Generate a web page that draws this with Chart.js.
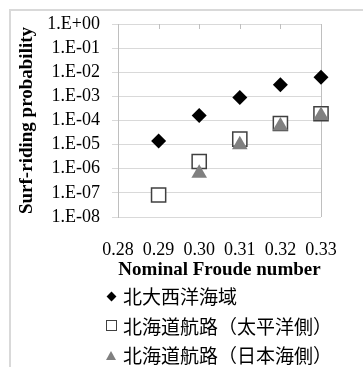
<!DOCTYPE html>
<html>
<head>
<meta charset="utf-8">
<script src="https://cdn.jsdelivr.net/npm/chart.js@4"></script>
<style>
  html, body { margin: 0; padding: 0; background: #fff; }
  #wrap { position: relative; width: 363px; height: 367px; overflow: hidden; }
  #frame { position: absolute; left: 9px; top: 9px; width: 400px; height: 400px;
           border-top: 2px solid #d9d9d9; border-left: 2px solid #d9d9d9; }
  #chart { position: absolute; left: 0; top: 0; }
  #legend { position: absolute; left: 104px; top: 281px;
            font-family: "Noto Sans CJK JP", sans-serif; font-size: 19px; color: #000; }
  .item { height: 29.5px; line-height: 29.5px; white-space: nowrap; }
  .mk { display: inline-block; width: 16px; height: 16px; position: relative; vertical-align: middle; margin-right: 3px; top: -2px; }
  .mk span { position: absolute; }
</style>
</head>
<body>
<div id="wrap">
  <div id="frame"></div>
  <canvas id="chart" width="363" height="367"></canvas>
  <div id="legend"></div>
</div>
<script>
// data
const froude = [0.29, 0.30, 0.31, 0.32, 0.33];
const seriesNames = ["北大西洋海域", "北海道航路（太平洋側）", "北海道航路（日本海側）"];
const northAtlantic = [1.4e-5, 1.6e-4, 8.9e-4, 3.0e-3, 6.2e-3];
const pacificSide = [8.2e-8, 2.0e-6, 1.7e-5, 7.5e-5, 1.9e-4];
const japanSeaSide = [null, 6.5e-7, 9.8e-6, 5.9e-5, 1.6e-4];

const xTickValues = [0.28, 0.29, 0.30, 0.31, 0.32, 0.33];
const xTickLabels = ["0.28", "0.29", "0.30", "0.31", "0.32", "0.33"];
const yTickValues = [1e-8, 1e-7, 1e-6, 1e-5, 1e-4, 1e-3, 1e-2, 1e-1, 1];
const yTickLabels = ["1.E-08", "1.E-07", "1.E-06", "1.E-05", "1.E-04", "1.E-03", "1.E-02", "1.E-01", "1.E+00"];

const gridColor = "#d9d9d9";
const axisColor = "#bfbfbf";

function toPoints(values) {
    return froude.map((x, i) => ({ x, y: values[i] })).filter(p => p.y !== null);
}

// right border of the plot and the little ticks along the top
const plotFrame = {
    id: "plotFrame",
    beforeDatasetsDraw(chart) {
        const { ctx, chartArea: a, scales: { x } } = chart;
        ctx.save();
        ctx.strokeStyle = axisColor;
        ctx.lineWidth = 1;
        ctx.beginPath();
        const r = Math.round(a.right) + 0.5;
        ctx.moveTo(r, a.top);
        ctx.lineTo(r, a.bottom);
        xTickValues.forEach(v => {
            const px = Math.round(x.getPixelForValue(v)) + 0.5;
            ctx.moveTo(px, a.top);
            ctx.lineTo(px, a.top + 5);
        });
        ctx.stroke();
        ctx.restore();
    }
};

const chart = new Chart(document.getElementById("chart"), {
    type: "scatter",
    data: {
        datasets: [
            {
                label: seriesNames[0],
                data: toPoints(northAtlantic),
                pointStyle: "rectRot",
                pointRadius: 7.5,
                backgroundColor: "#000",
                borderColor: "#000",
                borderWidth: 0,
                order: 3,
                clip: false,
            },
            {
                label: seriesNames[1],
                data: toPoints(pacificSide),
                pointStyle: "rect",
                pointRadius: 10,
                backgroundColor: "#fff",
                borderColor: "#404040",
                borderWidth: 1.5,
                order: 2,
                clip: false,
            },
            {
                label: seriesNames[2],
                data: toPoints(japanSeaSide),
                pointStyle: "triangle",
                pointRadius: 9,
                backgroundColor: "#808080",
                borderColor: "#808080",
                borderWidth: 0,
                order: 1,
                clip: false,
            },
        ],
    },
    options: {
        responsive: false,
        animation: false,
        layout: { padding: { left: 10, top: 24, right: 42, bottom: 85 } },
        plugins: {
            legend: { display: false },
            tooltip: { enabled: false },
        },
        scales: {
            x: {
                type: "linear",
                min: 0.28,
                max: 0.33,
                afterBuildTicks: (scale) => { scale.ticks = xTickValues.map(v => ({ value: v })); },
                afterFit: (scale) => { scale.height = 65; },
                grid: { display: false },
                border: { display: false },
                ticks: {
                    color: "#000",
                    padding: 14,
                    maxRotation: 0,
                    autoSkip: false,
                    font: { family: "Liberation Serif", size: 18 },
                    callback: (v, i) => xTickLabels[i],
                },
                title: {
                    display: true,
                    text: "Nominal Froude number",
                    color: "#000",
                    padding: { top: 0, bottom: 1 },
                    font: { family: "Liberation Serif", size: 19, weight: "bold" },
                },
            },
            y: {
                type: "logarithmic",
                min: 1e-8,
                max: 1,
                afterBuildTicks: (scale) => { scale.ticks = yTickValues.map(v => ({ value: v, major: true })); },
                afterFit: (scale) => { scale.width = 108; },
                grid: { color: gridColor, lineWidth: 1, tickLength: 6, tickColor: gridColor },
                border: { display: true, color: axisColor, width: 1 },
                ticks: {
                    color: "#000",
                    padding: 12,
                    autoSkip: false,
                    font: { family: "Liberation Serif", size: 18 },
                    callback: (v, i) => yTickLabels[i],
                },
                title: {
                    display: true,
                    text: "Surf-riding probability",
                    color: "#000",
                    padding: { top: 6, bottom: 0 },
                    font: { family: "Liberation Serif", size: 19, weight: "bold" },
                },
            },
        },
    },
    plugins: [plotFrame],
});

// legend built from the same series
const legend = document.getElementById("legend");
const markers = [
    '<span style="left:4px;top:4px;width:7px;height:7px;background:#000;transform:rotate(45deg);"></span>',
    '<span style="left:2px;top:2px;width:9px;height:9px;border:1px solid #404040;background:#fff;"></span>',
    '<span style="left:2px;top:3px;width:0;height:0;border-left:5px solid transparent;border-right:5px solid transparent;border-bottom:9px solid #808080;"></span>',
];
seriesNames.forEach((name, i) => {
    const row = document.createElement("div");
    row.className = "item";
    row.innerHTML = `<span class="mk">${markers[i]}</span>${name}`;
    legend.appendChild(row);
});
</script>
</body>
</html>
